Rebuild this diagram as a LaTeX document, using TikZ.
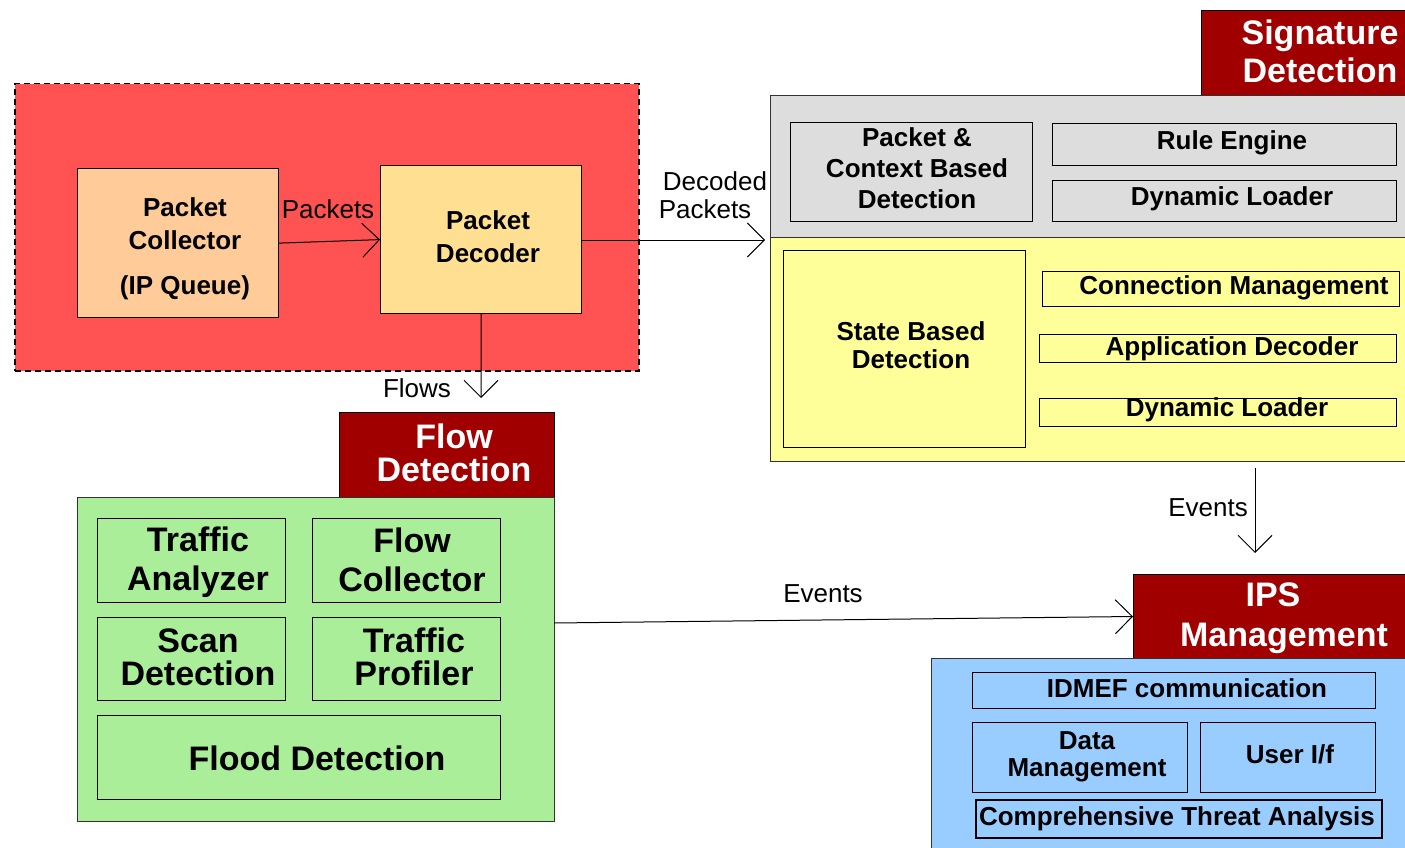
\documentclass[tikz,border=0pt]{standalone}
\usepackage{fontspec}
\setmainfont{Liberation Sans}
\usetikzlibrary{arrows.meta}
\definecolor{redzone}{RGB}{255,82,82}
\definecolor{peach}{RGB}{255,204,153}
\definecolor{decfill}{RGB}{255,224,147}
\definecolor{titlered}{RGB}{160,0,0}
\definecolor{grayfill}{RGB}{221,221,221}
\definecolor{yelfill}{RGB}{255,255,153}
\definecolor{greenfill}{RGB}{170,238,153}
\definecolor{bluefill}{RGB}{153,204,255}
\definecolor{edge}{RGB}{50,50,50}
\begin{document}
\begin{tikzpicture}[x=1pt,y=-1pt,
  region/.style={draw=edge, line width=1.3pt, anchor=north west, inner sep=0pt},
  inbox/.style={draw=black, line width=1.2pt, anchor=north west, inner sep=0pt},
  titlebox/.style={draw=black, line width=1pt, fill=titlered, anchor=north west, inner sep=0pt},
  small/.style={font=\fontsize{26}{33}\selectfont, inner sep=0pt, align=center},
  smallb/.style={font=\bfseries\fontsize{26}{33}\selectfont, inner sep=0pt, align=center},
  big/.style={font=\bfseries\fontsize{34}{39}\selectfont, inner sep=0pt, align=center},
  ttl/.style={font=\bfseries\fontsize{34}{38}\selectfont, inner sep=0pt, align=center, text=white},
  flowarrow/.style={line width=1pt, -{Straight Barb[length=17pt,width=34pt,line width=1pt]}}
]
\useasboundingbox (0,0) rectangle (1405,848);

% ---------- red packet zone ----------
\node[draw=black, line width=1.5pt, dash pattern=on 6pt off 4pt, fill=redzone, anchor=north west, inner sep=0pt,
      minimum width=624pt, minimum height=287pt] (zone) at (14,83) {};
\node[inbox, fill=peach, minimum width=201pt, minimum height=149pt] (coll) at (77,168) {};
\node[inbox, fill=decfill, minimum width=201pt, minimum height=148pt] (dec) at (380,165) {};
\node[smallb] (tcoll) at (185,249) {Packet\\Collector\\[12pt](IP Queue)};
\node[smallb] (tdec) at (488,237) {Packet\\Decoder};

% ---------- signature detection ----------
\node[titlebox, minimum width=210pt, minimum height=85pt] (sigt) at (1201,10) {};
\node[ttl] (tsig) at (1320,51) {Signature\\Detection};
\node[region, fill=grayfill, minimum width=640pt, minimum height=142pt] (gray) at (770,95) {};
\node[inbox, minimum width=242pt, minimum height=99pt] (pcbd) at (790,122) {};
\node[inbox, minimum width=344pt, minimum height=42pt] (rule) at (1052,123) {};
\node[inbox, minimum width=344pt, minimum height=41pt] (dynA) at (1052,180) {};
\node[smallb, font=\bfseries\fontsize{26}{31}\selectfont] (tpcbd) at (917,168) {Packet \&\\Context Based\\Detection};
\node[smallb] (trule) at (1232,143) {Rule Engine};
\node[smallb] (tdynA) at (1232,199) {Dynamic Loader};
\node[region, fill=yelfill, minimum width=640pt, minimum height=224pt] (yel) at (770,237) {};
\node[inbox, minimum width=242pt, minimum height=197pt] (state) at (783,250) {};
\node[inbox, minimum width=357pt, minimum height=35pt] (conn) at (1042,271) {};
\node[inbox, minimum width=357pt, minimum height=28pt] (app) at (1039,334) {};
\node[inbox, minimum width=357pt, minimum height=28pt] (dynB) at (1039,398) {};
\node[smallb, font=\bfseries\fontsize{26}{28}\selectfont] (tstate) at (911,345) {State Based\\Detection};
\node[smallb] (tconn) at (1234,288) {Connection Management};
\node[smallb] (tapp) at (1232,349) {Application Decoder};
\node[smallb] (tdynB) at (1227,410) {Dynamic Loader};

% ---------- IPS management ----------
\node[titlebox, minimum width=280pt, minimum height=84pt] (ipst) at (1133,574) {};
\node[ttl, font=\bfseries\fontsize{34}{40}\selectfont] (tips) at (1284,618) {IPS\hspace*{22pt}\\Management};
\node[region, fill=bluefill, minimum width=480pt, minimum height=200pt] (blue) at (931,658) {};
\node[inbox, minimum width=403pt, minimum height=36pt] (idmef) at (972,672) {};
\node[inbox, minimum width=215pt, minimum height=70pt] (data) at (972,722) {};
\node[inbox, minimum width=175pt, minimum height=70pt] (user) at (1200,722) {};
\node[inbox, line width=2pt, minimum width=406pt, minimum height=38pt] (cta) at (975,799) {};
\node[smallb] (tidmef) at (1187,688) {IDMEF communication};
\node[smallb, font=\bfseries\fontsize{26}{27}\selectfont] (tdata) at (1087,757) {Data\\Management};
\node[smallb] (tuser) at (1290,754) {User I/f};
\node[smallb] (tcta) at (1177,819) {Comprehensive Threat Analysis};

% ---------- flow detection ----------
\node[titlebox, minimum width=215pt, minimum height=85pt] (flowt) at (339,412) {};
\node[ttl, font=\bfseries\fontsize{34}{33}\selectfont] (tflow) at (454,453) {Flow\\Detection};
\node[region, fill=greenfill, minimum width=477pt, minimum height=324pt] (green) at (77,497) {};
\node[inbox, minimum width=188pt, minimum height=84pt] (ta) at (97,518) {};
\node[inbox, minimum width=188pt, minimum height=84pt] (fc) at (312,518) {};
\node[inbox, minimum width=188pt, minimum height=83pt] (sd) at (97,617) {};
\node[inbox, minimum width=188pt, minimum height=83pt] (tp) at (312,617) {};
\node[inbox, minimum width=403pt, minimum height=84pt] (flood) at (97,715) {};
\node[big] (tta) at (198,562) {Traffic\\Analyzer};
\node[big] (tfc) at (412,560) {Flow\\Collector};
\node[big, font=\bfseries\fontsize{34}{33}\selectfont] (tsd) at (198,657) {Scan\\Detection};
\node[big, font=\bfseries\fontsize{34}{33}\selectfont] (ttp) at (414,657) {Traffic\\Profiler};
\node[big] (tflood) at (317,758) {Flood Detection};

% ---------- connectors ----------
\coordinate (decEnd) at (765,240);
\coordinate (flowEnd) at (481,398);
\coordinate (evTop) at (1255,468);
\coordinate (evBot) at (1255,553);
\coordinate (evStart) at (554,623);
\draw[flowarrow] (coll.east) -- (dec.west);
\draw[flowarrow] (dec.east |- decEnd) -- (decEnd);
\draw[flowarrow] (dec.south) -- (flowEnd);
\draw[flowarrow] (evTop) -- (evBot);
\draw[flowarrow] (evStart) -- (ipst.west);

% ---------- connector labels ----------
\node[small] (lpackets) at (328,209) {Packets};
\node[small, font=\fontsize{26}{28}\selectfont] (ldecoded) at (710,195) {Decoded\hspace*{-10pt}\\Packets\hspace*{10pt}};
\node[small] (lflows) at (417,388) {Flows};
\node[small] (levA) at (1208,508) {Events};
\node[small] (levB) at (823,594) {Events};
\end{tikzpicture}
\end{document}
